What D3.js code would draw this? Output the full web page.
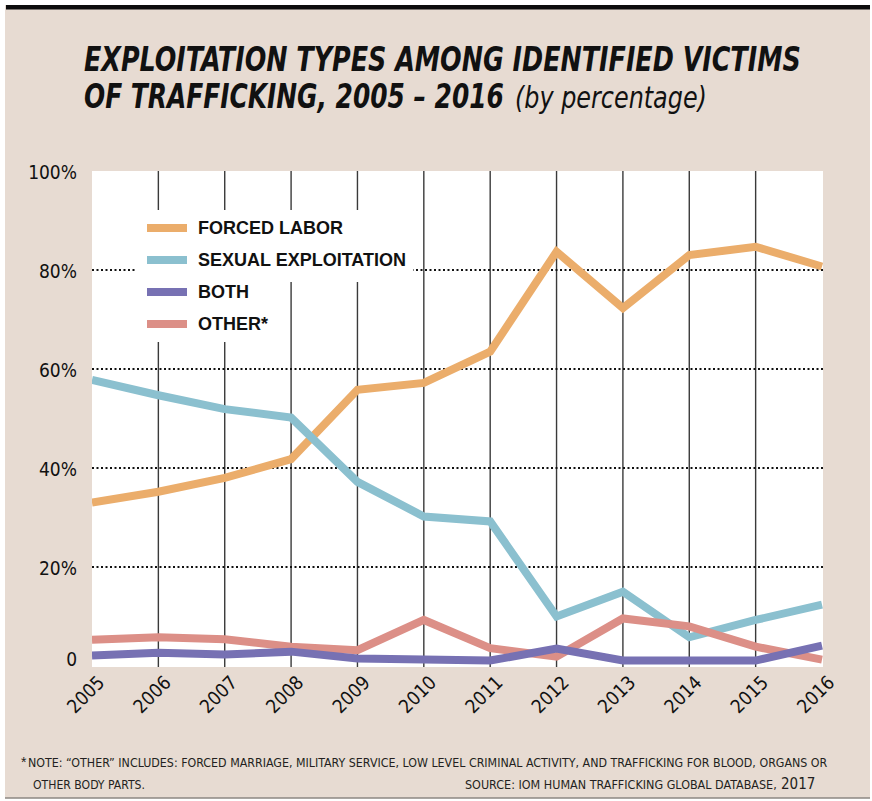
<!DOCTYPE html>
<html>
<head>
<meta charset="utf-8">
<script src="https://cdn.jsdelivr.net/npm/d3@7"></script>
<style>
  html, body { margin: 0; padding: 0; background: #ffffff; }
  svg { display: block; }
</style>
</head>
<body>
<svg id="chart" width="872" height="801"></svg>
<script>
// ---- data ----
const years = [2005, 2006, 2007, 2008, 2009, 2010, 2011, 2012, 2013, 2014, 2015, 2016];
const forcedLabor = [33.0, 35.2, 38.0, 41.8, 55.8, 57.2, 63.5, 83.7, 72.3, 83.0, 84.7, 80.7];
const sexualExploitation = [57.8, 54.7, 51.9, 50.2, 37.2, 30.2, 29.2, 10.0, 15.0, 5.8, 9.3, 12.4];
const both = [2.1, 2.7, 2.3, 2.9, 1.5, 1.3, 1.1, 3.5, 1.1, 1.1, 1.1, 4.1];
const other = [5.3, 5.8, 5.4, 3.9, 3.2, 9.3, 3.6, 1.9, 9.6, 8.0, 3.9, 1.3];
const seriesNames = ["FORCED LABOR", "SEXUAL EXPLOITATION", "BOTH", "OTHER*"];
const yTicks = [0, 20, 40, 60, 80, 100];
const gridTicks = [20, 40, 60, 80];

const colors = {
  "FORCED LABOR": "#ebad6b",
  "SEXUAL EXPLOITATION": "#8bc0cf",
  "BOTH": "#7771b3",
  "OTHER*": "#dc8f87"
};
const seriesValues = {
  "FORCED LABOR": forcedLabor,
  "SEXUAL EXPLOITATION": sexualExploitation,
  "BOTH": both,
  "OTHER*": other
};

const svg = d3.select("#chart");
const condensed = "'Liberation Sans Narrow', 'DejaVu Sans Condensed', 'Liberation Sans', Arial, sans-serif";
const sans = "'Liberation Sans', Arial, sans-serif";

// text fitted horizontally to a target width with a scale transform
function fitText(txt, px, py, width, attrs) {
  const t = svg.append("text").text(txt);
  Object.entries(attrs).forEach(([k, v]) => t.attr(k, v));
  const w = t.node().getComputedTextLength() || width;
  t.attr("transform", `translate(${px},${py}) scale(${width / w},1)`);
  return t;
}

// ---- frame ----
svg.append("rect").attr("x", 5).attr("y", 5).attr("width", 865).attr("height", 793).attr("fill", "#e7dbd2");
svg.append("rect").attr("x", 6).attr("y", 5).attr("width", 864).attr("height", 4.5).attr("fill", "#0d0d0d");
svg.append("line").attr("x1", 5).attr("x2", 870).attr("y1", 798).attr("y2", 798)
  .attr("stroke", "#8c8782").attr("stroke-width", 1.5);

// ---- title ----
const titleBold = { "font-family": condensed, "font-weight": "bold", "font-style": "italic", "font-size": 33, "fill": "#111" };
fitText("EXPLOITATION TYPES AMONG IDENTIFIED VICTIMS", 84, 71, 717, titleBold);
fitText("OF TRAFFICKING, 2005 \u2013 2016", 84, 108, 420, titleBold);
fitText("(by percentage)", 515, 108, 192,
  { "font-family": condensed, "font-style": "italic", "font-size": 30, "fill": "#111" });

// ---- scales ----
const x = d3.scaleLinear().domain([2005, 2016]).range([92, 822]);
const y = d3.scaleLinear().domain([0, 100]).range([666, 171]);

// plot background
svg.append("rect").attr("x", x(2005)).attr("y", y(100))
  .attr("width", 823 - x(2005)).attr("height", 667 - y(100)).attr("fill", "#ffffff");

// vertical year lines
svg.append("g").selectAll("line").data(years.slice(1, -1)).join("line")
  .attr("x1", d => x(d)).attr("x2", d => x(d))
  .attr("y1", y(100)).attr("y2", 667)
  .attr("stroke", "#3a3a3a").attr("stroke-width", 1.4);

// dotted horizontal grid
svg.append("g").selectAll("line").data(gridTicks).join("line")
  .attr("x1", x(2005)).attr("x2", 823)
  .attr("y1", d => y(d)).attr("y2", d => y(d))
  .attr("stroke", "#111").attr("stroke-width", 2)
  .attr("stroke-dasharray", "2,2.5");

// y axis labels
const yAxis = d3.axisLeft(y).tickValues(yTicks).tickSize(0).tickPadding(15)
  .tickFormat(d => d === 0 ? "0" : d + "%");
const yg = svg.append("g").attr("transform", `translate(${x(2005)},0)`).call(yAxis);
yg.select(".domain").remove();
yg.selectAll("text")
  .attr("font-family", condensed).attr("font-size", 19).attr("fill", "#111")
  .attr("dy", d => d === 0 ? "-0.05em" : "0.42em");

// x axis labels
svg.append("g").selectAll("text").data(years).join("text")
  .attr("transform", d => `translate(${x(d) + 9},${679}) rotate(-45)`)
  .attr("text-anchor", "end")
  .attr("dy", "0.35em")
  .attr("font-family", condensed).attr("font-size", 19).attr("fill", "#111")
  .text(d => d);

// ---- lines ----
const line = d3.line().x((d, i) => x(years[i])).y(d => y(d));
const drawOrder = ["FORCED LABOR", "SEXUAL EXPLOITATION", "OTHER*", "BOTH"];
svg.append("clipPath").attr("id", "plotclip").append("rect")
  .attr("x", x(2005)).attr("y", y(100) - 10).attr("width", 823 - x(2005)).attr("height", 667 - y(100) + 10);
svg.append("g").attr("clip-path", "url(#plotclip)")
  .selectAll("path").data(drawOrder).join("path")
  .attr("d", k => line(seriesValues[k]))
  .attr("fill", "none")
  .attr("stroke", k => colors[k])
  .attr("stroke-width", 8)
  .attr("stroke-linejoin", "miter")
  .attr("stroke-linecap", "butt");

// ---- legend ----
const lg = svg.append("g");
lg.append("rect").attr("x", 135).attr("y", 210).attr("width", 278).attr("height", 72).attr("fill", "#ffffff");
lg.append("rect").attr("x", 135).attr("y", 282).attr("width", 125).attr("height", 60).attr("fill", "#ffffff");
const legendRows = [228, 260, 292, 324];
seriesNames.forEach((name, i) => {
  lg.append("line").attr("x1", 147).attr("x2", 187)
    .attr("y1", legendRows[i]).attr("y2", legendRows[i])
    .attr("stroke", colors[name]).attr("stroke-width", 8);
  lg.append("text").attr("x", 198).attr("y", legendRows[i]).attr("dy", "0.36em")
    .attr("font-family", sans).attr("font-weight", "bold").attr("font-size", 18).attr("fill", "#111")
    .text(name);
});

// ---- footnote ----
const noteColor = "#231f20";
const noteAttrs = { "font-family": condensed, "font-size": 12, "fill": noteColor };
svg.append("text").attr("x", 21).attr("y", 767)
  .attr("font-family", sans).attr("font-size", 14).attr("fill", noteColor).text("*");
fitText("NOTE: \u201COTHER\u201D INCLUDES: FORCED MARRIAGE, MILITARY SERVICE, LOW LEVEL CRIMINAL ACTIVITY, AND TRAFFICKING FOR BLOOD, ORGANS OR",
  28, 767, 800, noteAttrs);
fitText("OTHER BODY PARTS.", 33, 789, 112, noteAttrs);
fitText("SOURCE: IOM HUMAN TRAFFICKING GLOBAL DATABASE,", 465, 789, 312, noteAttrs);
svg.append("text").attr("x", 781).attr("y", 789)
  .attr("font-family", condensed).attr("font-size", 15).attr("fill", noteColor)
  .text("2017");
</script>
</body>
</html>
